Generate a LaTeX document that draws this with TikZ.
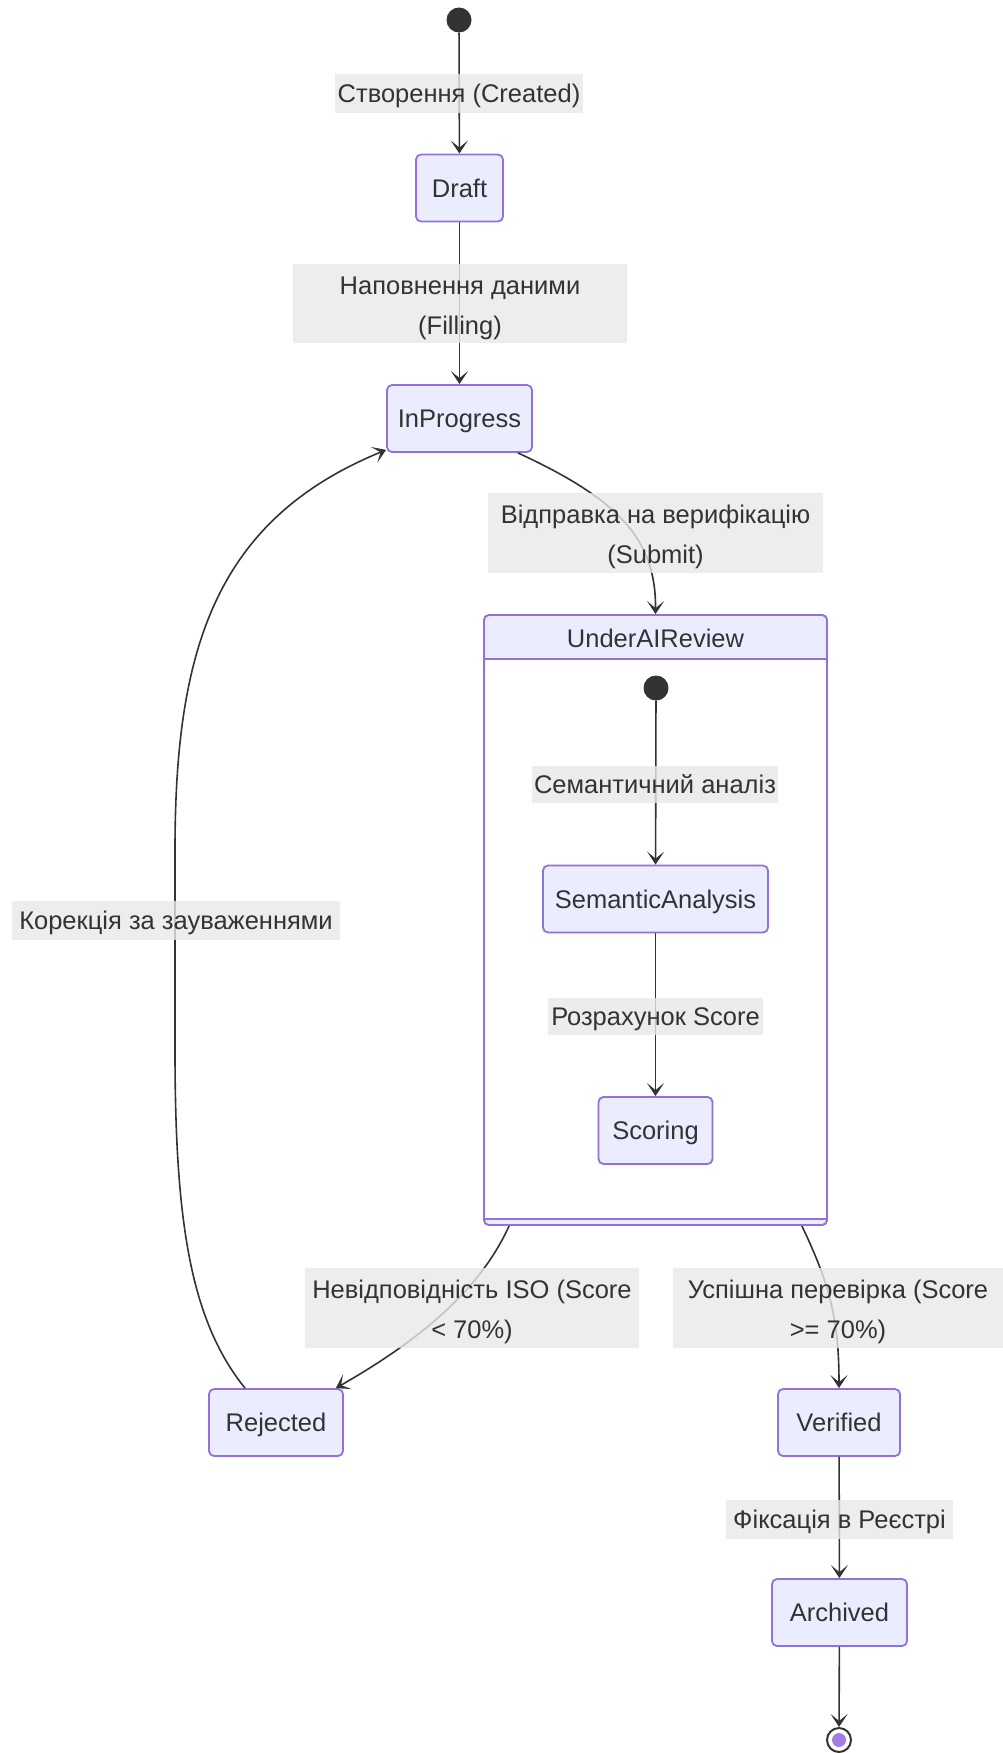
\documentclass[tikz,border=0pt]{standalone}
\usepackage{fontspec}
\setmainfont{Liberation Sans}
\usetikzlibrary{arrows.meta}
\definecolor{nodefill}{HTML}{ECECFF}
\definecolor{nodeline}{HTML}{9370DB}
\definecolor{ink}{HTML}{333333}
\definecolor{lblbg}{HTML}{E8E8E8}
\definecolor{endcore}{HTML}{A07EE6}
% raises the first line of a two-line label so both lines sit centred
\newcommand{\firstline}{\rule{0pt}{26.5pt}}
\tikzset{
  state/.style={draw=nodeline, fill=nodefill, line width=1.8pt, rounded corners=5pt,
    inner sep=0pt, minimum height=67pt, text=ink, text height=18.3pt, text depth=0pt,
    font=\fontsize{25.5}{30}\selectfont},
  startdot/.style={circle, fill=ink, draw=none, minimum size=25pt, inner sep=0pt},
  edgelbl/.style={fill=lblbg, fill opacity=0.8, text opacity=1, text=ink, inner sep=0pt,
    font=\fontsize{25.5}{40}\selectfont},
  onelbl/.style={edgelbl, text height=18.3pt, text depth=0pt},
  twolbl/.style={edgelbl, align=center, minimum height=80pt},
  trans/.style={draw=ink, line width=1.6pt, -{Stealth[length=13pt,width=17pt,inset=7pt]}},
}
\begin{document}
\begin{tikzpicture}[x=1pt,y=-1pt]
\useasboundingbox (0,0) rectangle (1003,1753);

% composite state UnderAIReview
\node[draw=nodeline, line width=1.8pt, rounded corners=5pt, fill=white,
      minimum width=343pt, minimum height=610pt, inner sep=0pt] (ua) at (655.5,920) {};
\begin{scope}
  \clip[rounded corners=5pt] (484,615) rectangle (827,1225);
  \fill[nodefill] (484,615) rectangle (827,659);
  \fill[nodefill] (484,1219) rectangle (827,1225);
\end{scope}
\draw[nodeline, line width=1.8pt, rounded corners=5pt] (484,615) rectangle (827,1225);
\draw[nodeline, line width=1.6pt] (484,659) -- (827,659);
\draw[nodeline, line width=1.4pt] (484,1219) -- (827,1219);
\node[text=ink, text height=18.3pt, text depth=0pt, font=\fontsize{25.5}{30}\selectfont] (uatitle) at (655.5,638) {UnderAIReview};

% states
\node[startdot] (start) at (459,20) {};
\node[state, minimum width=87pt] (draft) at (459.5,188) {Draft};
\node[state, minimum width=145pt] (inprog) at (459.5,418.5) {InProgress};
\node[startdot] (istart) at (656,688) {};
\node[state, minimum width=225pt] (sem) at (655.5,899) {SemanticAnalysis};
\node[state, minimum width=114pt] (scoring) at (655.5,1130.5) {Scoring};
\node[state, minimum width=134pt] (rejected) at (276,1422.5) {Rejected};
\node[state, minimum width=122pt] (verified) at (839,1422.5) {Verified};
\node[state, minimum width=135pt] (archived) at (839.5,1612.5) {Archived};
\node[circle, draw=ink, fill=white, line width=2pt, minimum size=24pt, inner sep=0pt] (final) at (839,1740) {};
\fill[endcore] (final.center) circle (7pt);

% transitions
\draw[trans] (start) -- (draft);
\draw[trans] (draft) -- (inprog);
\draw[trans] ([xshift=-15pt]inprog.south east) .. controls (620,500) and (656,540) .. (ua.north);
\draw[trans] (istart) -- (sem);
\draw[trans] (sem) -- (scoring);
\draw[trans] ([xshift=26pt]ua.south west) .. controls (480,1290) and (420,1340) .. ([xshift=-8pt]rejected.north east);
\draw[trans] ([xshift=-26pt]ua.south east) .. controls (830,1285) and (839,1320) .. (verified.north);
\draw[trans] ([xshift=-31pt]rejected.north) .. controls (190,1320) and (175,1220) .. (175,1050)
  -- (175,850) .. controls (175,650) and (215,520) .. ([yshift=3pt]inprog.south west);
\draw[trans] (verified) -- (archived);
\draw[trans] (archived) -- (final);

% transition labels
\node[onelbl, minimum width=248pt, minimum height=39pt] (l1) at (459,93.5) {Створення (Created)};
\node[twolbl, minimum width=334pt, minimum height=79pt] (l2) at (460,303.5) {\firstline Наповнення даними\\(Filling)};
\node[twolbl, minimum width=335pt] (l3) at (655.5,533) {\firstline Відправка на верифікацію\\(Submit)};
\node[onelbl, minimum width=246pt, minimum height=37pt] (l4) at (655,784) {Семантичний аналіз};
\node[onelbl, minimum width=215pt, minimum height=37pt] (l5) at (655.5,1016.5) {Розрахунок Score};
\node[onelbl, minimum width=328pt, minimum height=39pt] (l6) at (176,920.5) {Корекція за зауваженнями};
\node[twolbl, minimum width=334pt] (l7) at (472,1308) {\firstline Невідповідність ISO (Score\\< 70\%)};
\node[twolbl, minimum width=330pt] (l8) at (838,1308) {\firstline Успішна перевірка (Score\\>= 70\%)};
\node[onelbl, minimum width=227pt, minimum height=39pt] (l9) at (839.5,1519) {Фіксація в Реєстрі};
\end{tikzpicture}
\end{document}
